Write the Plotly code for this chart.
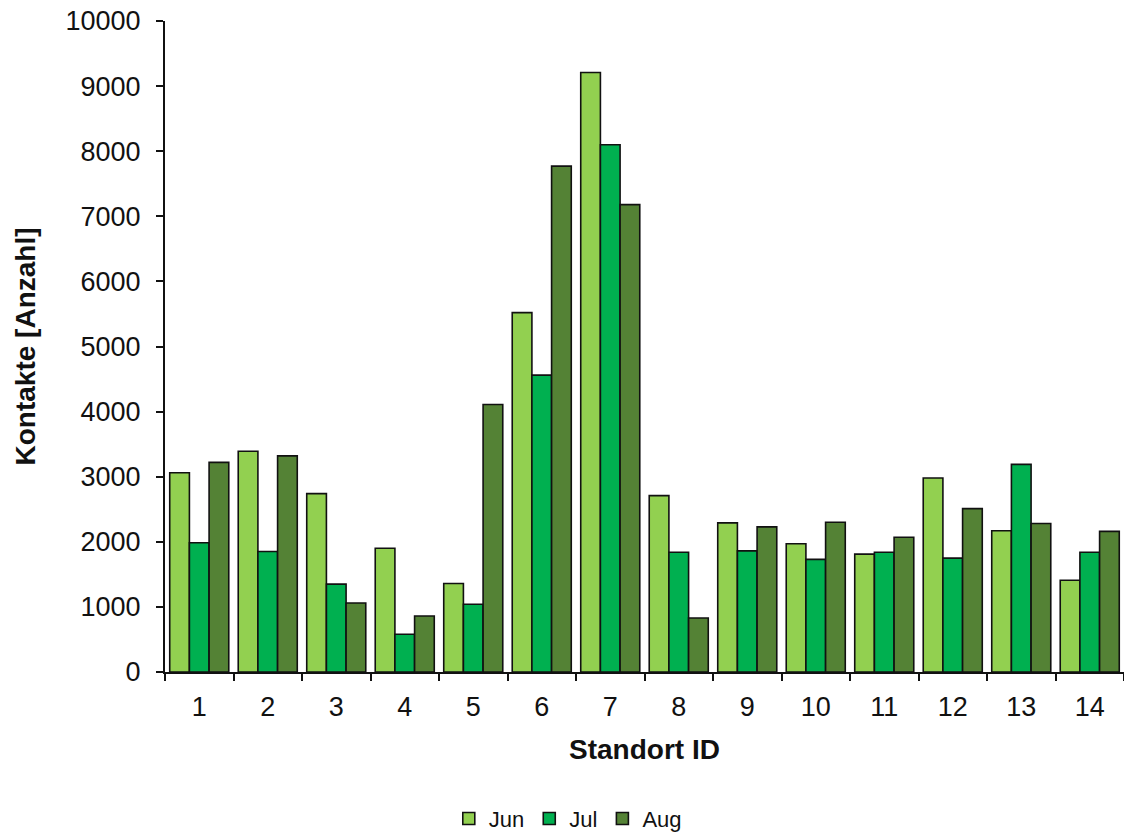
import plotly.graph_objects as go

# Standort IDs and monthly contact counts
standorte = [str(i) for i in range(1, 15)]
kontakte_jun = [3060, 3390, 2740, 1900, 1360, 5520, 9210, 2710, 2290, 1970, 1810, 2980, 2170, 1410]
kontakte_jul = [1985, 1850, 1350, 580, 1040, 4560, 8100, 1840, 1860, 1730, 1840, 1750, 3190, 1840]
kontakte_aug = [3220, 3320, 1060, 860, 4110, 7770, 7180, 830, 2230, 2300, 2070, 2510, 2280, 2160]

serien = [
    ("Jun", kontakte_jun, "#92D050"),
    ("Jul", kontakte_jul, "#00B050"),
    ("Aug", kontakte_aug, "#548235"),
]

FONT = "Liberation Sans, Arial, sans-serif"

fig = go.Figure()
for name, werte, farbe in serien:
    fig.add_trace(go.Bar(
        name=name,
        x=standorte,
        y=werte,
        marker=dict(color=farbe, line=dict(color="#111111", width=1.6)),
    ))

fig.update_layout(
    width=1124,
    height=834,
    margin=dict(l=165, r=0, t=21, b=162, autoexpand=False),
    paper_bgcolor="white",
    plot_bgcolor="white",
    barmode="group",
    bargap=0.138,
    bargroupgap=0,
    font=dict(family=FONT, color="#111111"),
    showlegend=True,
    legend=dict(
        orientation="h",
        x=0.42,
        xanchor="center",
        y=-0.193,
        yanchor="top",
        font=dict(size=22, family=FONT),
        itemwidth=30,
        traceorder="normal",
    ),
)

fig.update_xaxes(
    type="category",
    showline=True,
    linecolor="#111111",
    linewidth=2,
    ticks="outside",
    tickson="boundaries",
    ticklen=7,
    tickwidth=2,
    tickcolor="#111111",
    tickfont=dict(size=27, family=FONT),
    ticklabelstandoff=10,
    showgrid=False,
    title=dict(text="<b>Standort ID</b>", font=dict(size=28, family=FONT), standoff=18),
)

fig.update_yaxes(
    range=[0, 10000],
    dtick=1000,
    tickformat="d",
    showline=True,
    linecolor="#111111",
    linewidth=2,
    ticks="outside",
    ticklen=7,
    tickwidth=2,
    tickcolor="#111111",
    tickfont=dict(size=27, family=FONT),
    showgrid=False,
    zeroline=False,
    ticklabelstandoff=10,
    title=dict(text="<b>Kontakte [Anzahl]</b>", font=dict(size=28, family=FONT), standoff=22),
)

fig.write_html("out.html")
